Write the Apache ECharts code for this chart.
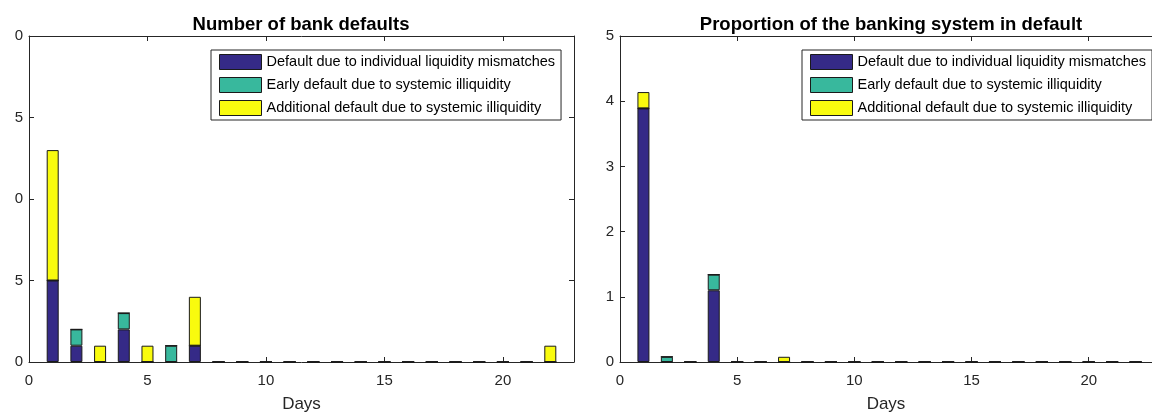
<!DOCTYPE html>
<html>
<head>
<meta charset="utf-8">
<script src="https://cdn.jsdelivr.net/npm/echarts@6/dist/echarts.min.js"></script>
<style>
html,body{margin:0;padding:0;background:#fff;}
#chart{width:1152px;height:418px;}
</style>
</head>
<body>
<div id="chart"></div>
<script>
// ---- data ----
const days = [1,2,3,4,5,6,7,8,9,10,11,12,13,14,15,16,17,18,19,20,21,22];
const seriesNames = [
  'Default due to individual liquidity mismatches',
  'Early default due to systemic illiquidity',
  'Additional default due to systemic illiquidity'
];
// Left: number of bank defaults
const countIndividual = [5,1,0,2,0,0,1,0,0,0,0,0,0,0,0,0,0,0,0,0,0,0];
const countEarly      = [0,1,0,1,0,1,0,0,0,0,0,0,0,0,0,0,0,0,0,0,0,0];
const countAdditional = [8,0,1,0,1,0,3,0,0,0,0,0,0,0,0,0,0,0,0,0,0,1];
// Right: proportion of the banking system in default
const propIndividual = [3.89,0,0,1.10,0,0,0,0,0,0,0,0,0,0,0,0,0,0,0,0,0,0];
const propEarly      = [0,0.08,0,0.24,0,0,0,0,0,0,0,0,0,0,0,0,0,0,0,0,0,0];
const propAdditional = [0.25,0,0,0,0,0,0.08,0,0,0,0,0,0,0,0,0,0,0,0,0,0,0];
// tick labels
const leftYTicks = [0,5,10,15,20];
const leftYTickLabels = ['0','5','0','5','0'];
const rightYTickLabels = ['0','1','2','3','4','5'];
const xTickLabels = ['0','5','10','15','20'];
const titles = ['Number of bank defaults','Proportion of the banking system in default'];
const xName = 'Days';

const colors = ['#352A87','#38B89D','#F9FB0E'];
const axisColor = '#262626';
const FONT = 'Liberation Sans, Arial, Helvetica, sans-serif';

// value first, day second, so the stack is computed on the value dimension
function pairs(arr){ return days.map((d,i)=>[arr[i], d]); }

const grids = [
  {left:29, top:36, width:545, bottom:52},
  {left:620, top:36, width:538, bottom:52}
];
const xMax = [23, 22.7];

function xAxes(gi){
  return [
    {type:'value', gridIndex:gi, min:0, max:xMax[gi], interval:5, position:'bottom',
     name:xName, nameLocation:'middle', nameGap:34,
     nameTextStyle:{fontFamily:FONT, fontSize:17, color:axisColor},
     axisLine:{show:true, onZero:false, lineStyle:{color:axisColor, width:1}},
     axisTick:{show:true, inside:true, length:5, lineStyle:{color:axisColor}},
     axisLabel:{show:true, margin:11, fontFamily:FONT, fontSize:15, color:axisColor,
       showMaxLabel:false,
       formatter:function(v){ const i = Math.round(v/5); return (v%5===0 && xTickLabels[i]!==undefined)? xTickLabels[i] : ''; }},
     splitLine:{show:false}},
    {type:'value', gridIndex:gi, min:0, max:xMax[gi], interval:5, position:'top',
     axisLine:{show:true, onZero:false, lineStyle:{color:axisColor, width:1}},
     axisTick:{show:true, inside:true, length:5, lineStyle:{color:axisColor}},
     axisLabel:{show:false}, splitLine:{show:false}}
  ];
}
function yAxes(gi){
  const isLeft = gi===0;
  const fmt = isLeft
    ? function(v){ const i = leftYTicks.indexOf(v); return i>=0 ? leftYTickLabels[i] : ''; }
    : function(v){ const i = Math.round(v); return rightYTickLabels[i]!==undefined ? rightYTickLabels[i] : ''; };
  const common = {type:'value', gridIndex:gi, min:0, max:isLeft?20:5, interval:isLeft?5:1, splitLine:{show:false}};
  return [
    Object.assign({}, common, {position:'left',
      axisLine:{show:true, onZero:false, lineStyle:{color:axisColor, width:1}},
      axisTick:{show:true, inside:true, length:5, lineStyle:{color:axisColor}},
      axisLabel:{show:true, margin:6, fontFamily:FONT, fontSize:15, color:axisColor, formatter:fmt}}),
    Object.assign({}, common, {position:'right',
      axisLine:{show:true, onZero:false, lineStyle:{color:axisColor, width:1}},
      axisTick:{show:isLeft, inside:true, length:5, lineStyle:{color:axisColor}},
      axisLabel:{show:false}})
  ];
}

function barSeries(gi, arrs){
  return arrs.map((arr,k)=>({
    type:'bar', name:seriesNames[k], xAxisIndex:gi*2, yAxisIndex:gi*2,
    stack:'s'+gi, barWidth:12, data:pairs(arr),
    dimensions:['v','day'],
    encode:{x:'day', y:'v'},
    itemStyle:{color:colors[k], borderColor:'#1a1a1a', borderWidth:1},
    emphasis:{disabled:true}, animation:false
  }));
}

const legendCommon = {
  orient:'vertical', top:50, itemWidth:42, itemHeight:15, itemGap:7,
  padding:[4,6,4,8], borderColor:axisColor, borderWidth:1, backgroundColor:'#fff',
  icon:'rect', data:seriesNames,
  itemStyle:{borderColor:'#1a1a1a', borderWidth:1},
  textStyle:{fontFamily:FONT, fontSize:14.5, color:'#000'}
};

const option = {
  animation:false,
  backgroundColor:'#fff',
  title:[
    {text:titles[0], left:296, top:10, textAlign:'center',
     textStyle:{fontFamily:FONT, fontSize:18.5, fontWeight:'bold', color:'#000'}},
    {text:titles[1], left:886, top:10, textAlign:'center',
     textStyle:{fontFamily:FONT, fontSize:18.5, fontWeight:'bold', color:'#000'}}
  ],
  legend:[
    Object.assign({}, legendCommon, {left:211}),
    Object.assign({}, legendCommon, {left:802})
  ],
  grid:grids,
  xAxis:[...xAxes(0), ...xAxes(1)],
  yAxis:[...yAxes(0), ...yAxes(1)],
  series:[
    ...barSeries(0, [countIndividual, countEarly, countAdditional]),
    ...barSeries(1, [propIndividual, propEarly, propAdditional])
  ]
};

const chart = echarts.init(document.getElementById('chart'), null, {renderer:'canvas'});
chart.setOption(option);
</script>
</body>
</html>
